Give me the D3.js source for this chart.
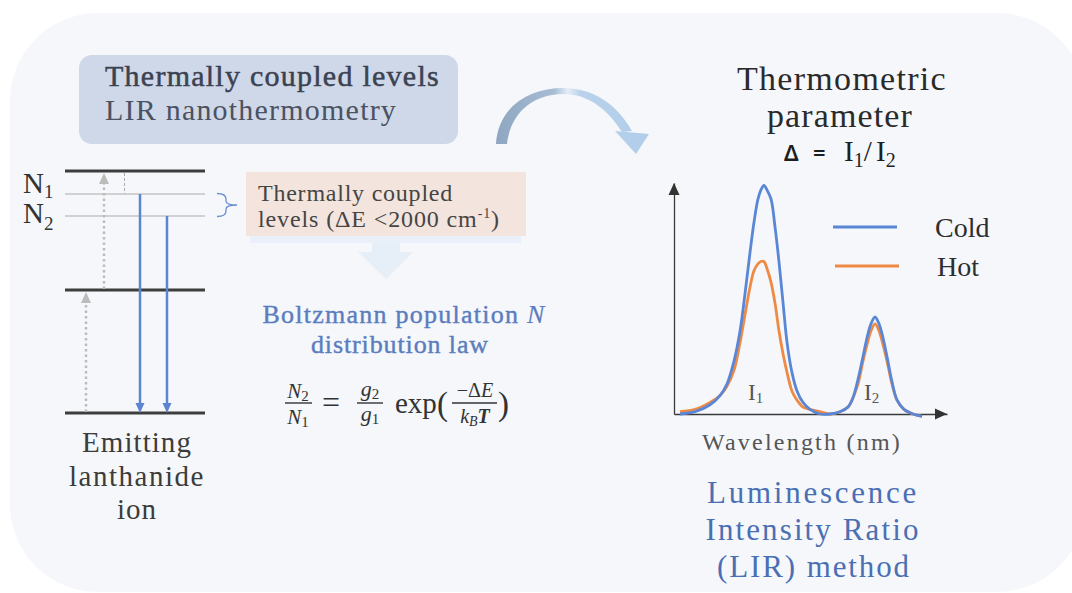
<!DOCTYPE html>
<html>
<head>
<meta charset="utf-8">
<script src="https://cdn.jsdelivr.net/npm/d3@7"></script>
<style>
body { margin: 0; background: #fff; }
svg { display: block; }
</style>
</head>
<body>
<div id="chart"></div>
<script>
// spectrum, wavelength in nm (arbitrary), intensity in a.u.
var wavelength = [504.4, 515.4, 526.4, 533.7, 538.8, 544.0, 548.4, 552.0, 555.7, 558.6,
  561.5, 563.7, 565.9, 568.1, 571.1, 574.0, 576.9, 579.9, 582.8, 586.4,
  590.1, 594.5, 599.6, 607.0, 614.3, 621.6, 627.5, 631.1, 634.8, 638.5,
  641.4, 644.3, 647.3, 650.2, 653.1, 656.0, 659.7, 663.4, 668.5, 675.1, 681.7];
var cold = [0.00, 0.01, 0.04, 0.08, 0.13, 0.23, 0.36, 0.52, 0.70, 0.83,
  0.93, 0.97, 0.99, 0.97, 0.93, 0.81, 0.66, 0.48, 0.31, 0.18,
  0.10, 0.05, 0.02, 0.00, 0.00, 0.01, 0.03, 0.07, 0.15, 0.25,
  0.33, 0.39, 0.42, 0.39, 0.33, 0.25, 0.14, 0.06, 0.02, 0.00, -0.01];
var hot = [0.01, 0.02, 0.05, 0.08, 0.12, 0.19, 0.31, 0.43, 0.55, 0.62,
  0.65, 0.66, 0.66, 0.63, 0.57, 0.48, 0.36, 0.26, 0.18, 0.10,
  0.06, 0.03, 0.02, 0.01, 0.00, 0.01, 0.03, 0.07, 0.13, 0.23,
  0.30, 0.36, 0.39, 0.36, 0.30, 0.23, 0.13, 0.06, 0.02, 0.00, -0.01];
var seriesNames = ["Cold", "Hot"];
var seriesColors = ["#5a86d6", "#ef8a45"];
var peakSubs = ["1", "2"];          // I1, I2
var peakWavelength = [565.9, 647.3];

var W = 1072, H = 593;
var serif = "'Liberation Serif', 'Times New Roman', serif";
var sans = "'Noto Sans', 'DejaVu Sans', sans-serif";

var svg = d3.select("#chart").append("svg").attr("width", W).attr("height", H);

// gradient for the curved arrow
var defs = svg.append("defs");
var grad = defs.append("linearGradient").attr("id", "arcGrad")
  .attr("gradientUnits", "userSpaceOnUse")
  .attr("x1", 496).attr("y1", 0).attr("x2", 649).attr("y2", 0);
[["0%", "#8ea6c0"], ["38%", "#a7bdd4"], ["47%", "#e4edf7"], ["55%", "#bad2ea"], ["100%", "#b0cdea"]]
  .forEach(function(s) { grad.append("stop").attr("offset", s[0]).attr("stop-color", s[1]); });

// panel
svg.append("rect").attr("x", 10).attr("y", 13).attr("width", 1075).attr("height", 579)
  .attr("rx", 88).attr("fill", "#f5f7fb");

function txt(g, x, y, size, color, anchor) {
  return g.append("text").attr("x", x).attr("y", y)
    .attr("font-family", serif).attr("font-size", size)
    .attr("fill", color).attr("text-anchor", anchor || "start");
}
// stretch text to the width it has in the picture
function fit(t, w) {
  var n = t.text().length;
  var cur = t.node().getComputedTextLength();
  t.attr("letter-spacing", ((w - cur) / n).toFixed(2) + "px");
  return t;
}

// ---- title box ----
var g0 = svg.append("g");
g0.append("rect").attr("x", 79).attr("y", 55).attr("width", 379).attr("height", 89)
  .attr("rx", 13).attr("fill", "#cfd8e8");
fit(txt(g0, 105, 86, 30, "#3b4252").attr("stroke", "#3b4252").attr("stroke-width", 0.5)
  .text("Thermally coupled levels"), 335);
fit(txt(g0, 105, 120, 30, "#4b5262").text("LIR nanothermometry"), 292);

// ---- energy level diagram ----
var gE = svg.append("g");
var lx0 = 65, lx1 = 205;
[171, 290, 413].forEach(function(y) {
  gE.append("line").attr("x1", lx0).attr("x2", lx1).attr("y1", y).attr("y2", y)
    .attr("stroke", "#3d3d3d").attr("stroke-width", 2.8);
});
[194, 216].forEach(function(y) {
  gE.append("line").attr("x1", lx0).attr("x2", lx1).attr("y1", y).attr("y2", y)
    .attr("stroke", "#c4c4c4").attr("stroke-width", 1.3);
});
gE.append("line").attr("x1", 124.5).attr("x2", 124.5).attr("y1", 173).attr("y2", 194)
  .attr("stroke", "#aaa").attr("stroke-width", 1).attr("stroke-dasharray", "3,2");

function upArrow(x, y0, y1, col) {
  gE.append("line").attr("x1", x).attr("x2", x).attr("y1", y0).attr("y2", y1 + 10)
    .attr("stroke", col).attr("stroke-width", 2.5).attr("stroke-dasharray", "2.5,3");
  gE.append("path").attr("d", "M" + (x - 5) + "," + (y1 + 11) + "L" + (x + 5) + "," + (y1 + 11) + "L" + x + "," + y1 + "Z")
    .attr("fill", col);
}
upArrow(104, 289, 173, "#bcbcbc");
upArrow(86, 412, 292, "#bcbcbc");

function downArrow(x, y0, y1, col) {
  gE.append("line").attr("x1", x).attr("x2", x).attr("y1", y0).attr("y2", y1 - 8)
    .attr("stroke", col).attr("stroke-width", 2.5);
  gE.append("path").attr("d", "M" + (x - 4.5) + "," + (y1 - 10) + "L" + (x + 4.5) + "," + (y1 - 10) + "L" + x + "," + y1 + "Z")
    .attr("fill", col);
}
downArrow(140, 194, 413, "#5b85d0");
downArrow(167, 216, 413, "#5b85d0");

// brace
gE.append("path")
  .attr("d", "M217,193.5 Q226,193.5 226,199 L226,201 Q226,205 237,205 Q226,205 226,209 L226,211 Q226,216.5 217,216.5")
  .attr("fill", "none").attr("stroke", "#6a8fd0").attr("stroke-width", 1.3);

var n1 = txt(gE, 23, 193, 29, "#333").text("N");
n1.append("tspan").attr("font-size", 19).attr("dy", 5).text("1");
var n2 = txt(gE, 23, 223, 29, "#333").text("N");
n2.append("tspan").attr("font-size", 19).attr("dy", 7).text("2");

fit(txt(gE, 137, 452, 29, "#3c3c3c", "middle").text("Emitting"), 110);
fit(txt(gE, 137, 486, 29, "#3c3c3c", "middle").text("lanthanide"), 136);
fit(txt(gE, 137, 519, 29, "#3c3c3c", "middle").text("ion"), 40);

// ---- thermally coupled box + down arrow ----
var gT = svg.append("g");
gT.append("rect").attr("x", 250).attr("y", 236).attr("width", 271).attr("height", 7).attr("fill", "#e9f0f9");
gT.append("path").attr("d", "M372,243 L400,243 L400,252 L413,252 L386,279 L358,252 L372,252 Z").attr("fill", "#e6eef8");
gT.append("rect").attr("x", 246).attr("y", 172).attr("width", 280).attr("height", 64).attr("fill", "#f3e4dd");
fit(txt(gT, 258, 201, 24, "#454545").text("Thermally coupled"), 195);
var lv = txt(gT, 258, 227, 24, "#454545").text("levels (ΔE <2000 cm");
lv.append("tspan").attr("font-size", 14).attr("dy", -9).text("-1");
lv.append("tspan").attr("dy", 9).text(")");
fit(lv, 242);

// ---- Boltzmann ----
var gB = svg.append("g");
var b1 = txt(gB, 404, 323, 26, "#5b7dbe", "middle").attr("stroke", "#5b7dbe").attr("stroke-width", 0.4)
  .text("Boltzmann population ");
b1.append("tspan").attr("font-style", "italic").attr("stroke-width", 0.2).text("N");
fit(b1, 283);
fit(txt(gB, 400, 353, 26, "#5b7dbe", "middle").attr("stroke", "#5b7dbe").attr("stroke-width", 0.4)
  .text("distribution law"), 178);

// formula
var fc = "#333";
function frac(x0, x1) {
  gB.append("line").attr("x1", x0).attr("x2", x1).attr("y1", 403).attr("y2", 403)
    .attr("stroke", fc).attr("stroke-width", 1.4);
}
var t;
t = txt(gB, 298, 398, 21, fc, "middle").attr("font-style", "italic").text("N");
t.append("tspan").attr("font-style", "normal").attr("font-size", 15).attr("dy", 3).text("2");
frac(285, 312);
t = txt(gB, 298, 424, 21, fc, "middle").attr("font-style", "italic").text("N");
t.append("tspan").attr("font-style", "normal").attr("font-size", 15).attr("dy", 3).text("1");
txt(gB, 331, 413, 32, fc, "middle").text("=");
t = txt(gB, 370, 396, 22, fc, "middle").attr("font-style", "italic").text("g");
t.append("tspan").attr("font-style", "normal").attr("font-size", 15).attr("dy", 3).text("2");
frac(357, 383);
t = txt(gB, 370, 421, 22, fc, "middle").attr("font-style", "italic").text("g");
t.append("tspan").attr("font-style", "normal").attr("font-size", 15).attr("dy", 3).text("1");
txt(gB, 395, 413, 29, fc).text("exp");
txt(gB, 437, 415, 33, fc).text("(");
t = txt(gB, 475, 397, 20, fc, "middle").text("−Δ");
t.append("tspan").attr("font-style", "italic").text("E");
frac(452, 497);
t = txt(gB, 475, 423, 20, fc, "middle").attr("font-style", "italic").text("k");
t.append("tspan").attr("font-size", 14).attr("dy", 3).text("B");
t.append("tspan").attr("font-weight", "bold").attr("dy", -3).text("T");
txt(gB, 498, 415, 33, fc).text(")");

// ---- curved arrow ----
svg.append("path")
  .attr("d", "M496,144 C498,106 530,88 563,88 C593,88 617,104 632,131 L622,132 C608,110 589,94 563,94 C536,94 511,110 507,144 Z")
  .attr("fill", "url(#arcGrad)");
svg.append("path").attr("d", "M615,131 L649,134 L636,154 Z").attr("fill", "url(#arcGrad)");

// ---- thermometric parameter ----
var gP = svg.append("g");
fit(txt(gP, 842, 90, 34, "#2a2a2a", "middle").text("Thermometric"), 210);
fit(txt(gP, 840, 127, 34, "#2a2a2a", "middle").text("parameter"), 146);
var dl = gP.append("text").attr("y", 161).attr("fill", "#1e1e1e");
dl.append("tspan").attr("x", 784).attr("font-family", sans).attr("font-size", 22).attr("font-weight", 600).text("Δ");
dl.append("tspan").attr("x", 813).attr("font-family", sans).attr("font-size", 22).attr("font-weight", 600).text("=");
dl.append("tspan").attr("x", 844).attr("font-family", serif).attr("font-size", 29).text("I");
dl.append("tspan").attr("font-family", serif).attr("font-size", 20).attr("dy", 6).text("1");
dl.append("tspan").attr("font-family", serif).attr("font-size", 29).attr("dy", -6).text("/");
dl.append("tspan").attr("x", 876).attr("font-family", serif).attr("font-size", 29).text("I");
dl.append("tspan").attr("font-family", serif).attr("font-size", 20).attr("dy", 6).text("2");

// ---- spectrum ----
var x = d3.scaleLinear().domain([500, 700]).range([674, 947]);
var y = d3.scaleLinear().domain([0, 1]).range([414, 183]);

var gC = svg.append("g");
gC.append("g").attr("transform", "translate(0,414)")
  .call(d3.axisBottom(x).ticks(0).tickSizeOuter(0))
  .call(function(a) { a.select(".domain").attr("stroke", "#3a3a3a").attr("stroke-width", 1.3); });
gC.append("g").attr("transform", "translate(674,0)")
  .call(d3.axisLeft(y).ticks(0).tickSizeOuter(0))
  .call(function(a) { a.select(".domain").attr("stroke", "#3a3a3a").attr("stroke-width", 1.3); });
var xe = x.range()[1], ye = y.range()[1];
gC.append("path").attr("d", "M" + (xe - 12) + "," + (y(0) - 5.5) + "L" + xe + "," + y(0) + "L" + (xe - 12) + "," + (y(0) + 5.5) + "Z").attr("fill", "#333");
gC.append("path").attr("d", "M" + (x(500) - 5.5) + "," + (ye + 12) + "L" + x(500) + "," + ye + "L" + (x(500) + 5.5) + "," + (ye + 12) + "Z").attr("fill", "#333");

var line = d3.line().curve(d3.curveCatmullRom.alpha(0.5))
  .x(function(d) { return x(d[0]); }).y(function(d) { return y(d[1]); });
var series = [cold, hot];
[1, 0].forEach(function(k) {
  gC.append("path").datum(wavelength.map(function(w, i) { return [w, series[k][i]]; }))
    .attr("d", line).attr("fill", "none")
    .attr("stroke", seriesColors[k]).attr("stroke-width", 2.8);
});

// peak labels
peakWavelength.forEach(function(w, i) {
  var l = txt(gC, x(w) - 16 + i * 5, 400, 23, "#555").text("I");
  l.append("tspan").attr("font-size", 15).attr("dy", 3).text(peakSubs[i]);
});

// legend
seriesNames.forEach(function(name, i) {
  var ly = 227 + i * 39;
  gC.append("line").attr("x1", 833 + i * 2).attr("x2", 897 + i * 2).attr("y1", ly).attr("y2", ly)
    .attr("stroke", seriesColors[i]).attr("stroke-width", 3);
  txt(gC, 935 + i * 2, ly + 10, 28, "#2e2e2e").text(name);
});

fit(txt(gC, 802, 450, 24, "#555", "middle").text("Wavelength (nm)"), 200);

// ---- LIR method ----
var lc = "#4b6fb3";
fit(txt(svg, 813, 503, 31, lc, "middle").text("Luminescence"), 212);
fit(txt(svg, 813, 540, 31, lc, "middle").text("Intensity Ratio"), 215);
fit(txt(svg, 814, 577, 31, lc, "middle").text("(LIR) method"), 194);
</script>
</body>
</html>
